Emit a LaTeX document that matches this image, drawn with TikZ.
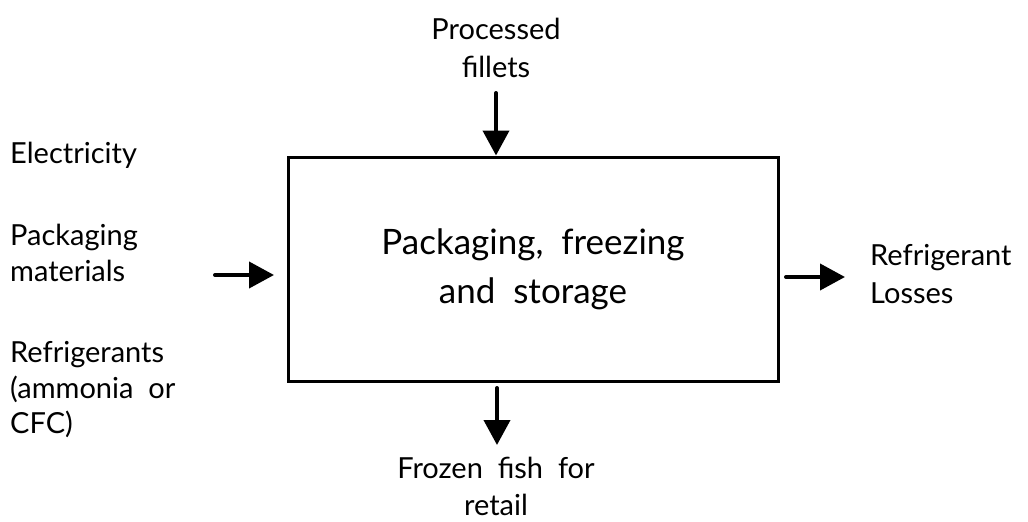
\documentclass[tikz,border=0pt]{standalone}
\usepackage{fontspec}
\setmainfont{Lato}
\usetikzlibrary{arrows.meta}
\begin{document}
\begin{tikzpicture}[x=1pt,y=-1pt,
  lbl/.style={inner sep=0pt,font=\fontsize{29}{37}\selectfont},
  flow/.style={line width=4pt,line cap=round,-{Triangle[length=25pt,width=26pt,line cap=butt]}},
  main/.style={draw,line width=3pt,minimum width=490pt,minimum height=224pt,inner sep=0pt,align=center,font=\fontsize{35}{49}\selectfont}]
\useasboundingbox (0,0) rectangle (1028,522);
\node[main] (box) at (533,269) {Packaging,\ \ freezing\\and\ \ storage};
\node[lbl,anchor=base] (proc) at (496,39) {Processed};
\node[lbl,anchor=base] (fil) at (496,77) {fillets};
\node[lbl,anchor=base west] (elec) at (10,163) {Electricity};
\node[lbl,anchor=base west] (pack) at (10,245) {Packaging};
\node[lbl,anchor=base west] (mat) at (10,281) {materials};
\node[lbl,anchor=base west] (refr) at (10,362) {Refrigerants};
\node[lbl,anchor=base west] (amm) at (10,398) {(ammonia\ \ or};
\node[lbl,anchor=base west] (cfc) at (10,433) {CFC)};
\node[lbl,anchor=base west] (rl1) at (870,265) {Refrigerant};
\node[lbl,anchor=base west] (rl2) at (870,303) {Losses};
\node[lbl,anchor=base] (fz1) at (496,478) {Frozen\ \ fish\ \ for};
\node[lbl,anchor=base] (fz2) at (496,515) {retail};
\coordinate (tin) at (496,93);
\coordinate (lin) at (215,275);
\coordinate (lend) at (274,275);
\coordinate (rout) at (786,277);
\coordinate (rend) at (845,277);
\coordinate (bout) at (497,388);
\coordinate (bend) at (497,445);
\draw[flow] (tin) -- (tin |- box.north);
\draw[flow] (lin) -- (lend);
\draw[flow] (rout) -- (rend);
\draw[flow] (bout) -- (bend);
\end{tikzpicture}
\end{document}
